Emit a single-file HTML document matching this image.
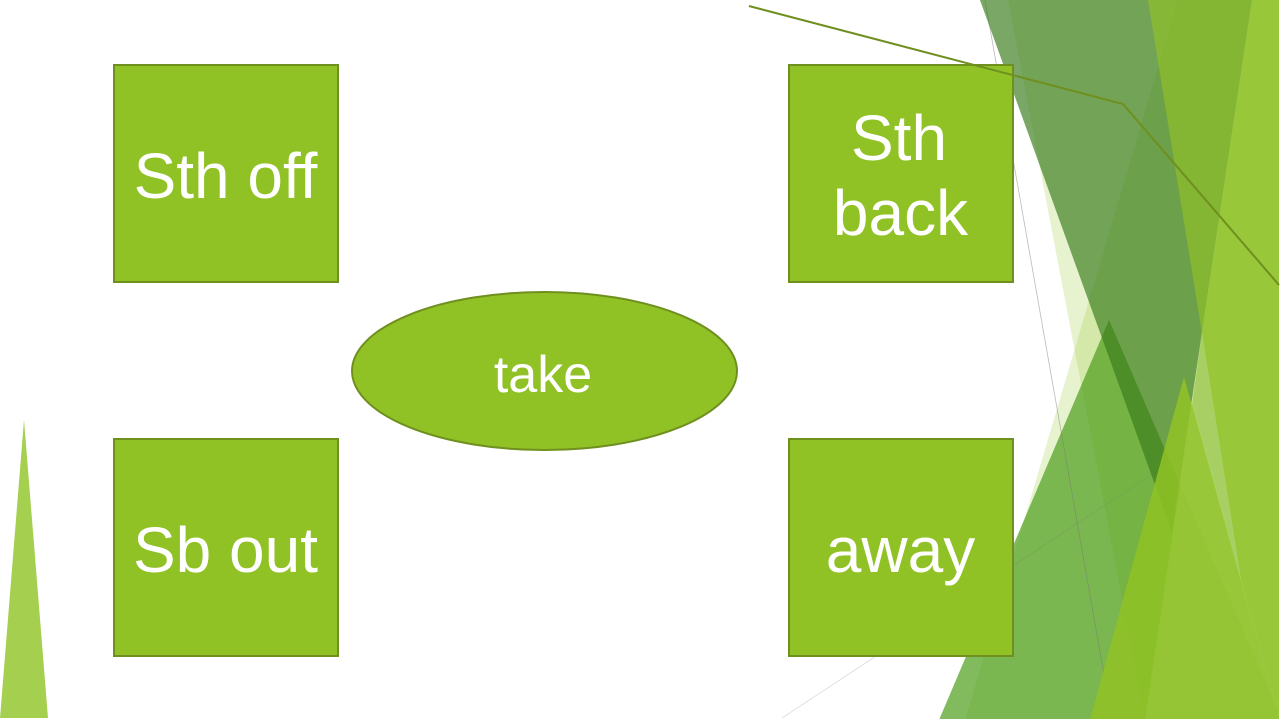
<!DOCTYPE html>
<html>
<head>
<meta charset="utf-8">
<style>
html,body{margin:0;padding:0;background:#fff;width:1280px;height:720px;overflow:hidden}
svg{display:block}
text{font-family:"Liberation Sans",Arial,sans-serif;fill:#fff;text-anchor:middle}
</style>
</head>
<body>
<svg width="1280" height="720" viewBox="0 0 1280 720" xmlns="http://www.w3.org/2000/svg">
<rect width="1280" height="720" fill="#fff"/>
<!-- pale facets -->
<polygon points="1008,0 1145,720 1280,720 1280,0" fill="#90c226" opacity=".22"/>
<polygon points="1178,0 965,720 1280,720 1280,0" fill="#90c226" opacity=".22"/>
<!-- green triangle -->
<polygon points="1109,320 939,720 1282,720" fill="#4d9e19" opacity=".7"/>
<!-- thin lines -->
<line x1="985" y1="0" x2="1112" y2="720" stroke="#777" stroke-width=".8" opacity=".5"/>
<line x1="782" y1="718" x2="1280" y2="390" stroke="#777" stroke-width=".6" opacity=".35"/>
<!-- dark facet -->
<polygon points="980,0 1252,0 1172,532" fill="#3a7c1b" opacity=".67"/>
<!-- band -->
<polygon points="1148,0 1252,0 1202,333" fill="#90c226" opacity=".65"/>
<!-- pale wedge -->
<polygon points="1202,333 1241,580 1192.6,400" fill="#a8cf64"/>
<!-- right facet -->
<polygon points="1252,0 1280,0 1280,720 1241,580 1202,333" fill="#98c73a"/>
<!-- front triangle -->
<polygon points="1184,377 1090,720 1280,720" fill="#90c226" opacity=".88"/>
<polygon points="1192.6,400 1241,580 1280,720 1145,720" fill="#98c73a" opacity=".7"/>
<!-- left triangle -->
<polygon points="24,420 0,718 48,718" fill="#a5cf4f"/>
<!-- edges of render -->
<rect x="0" y="719" width="1280" height="1" fill="#fff"/>
<rect x="1279" y="0" width="1" height="720" fill="#fff"/>
<!-- boxes -->
<g fill="#90c226" stroke="#6f8f1f" stroke-width="2">
<rect x="114" y="65" width="224" height="217"/>
<rect x="789" y="65" width="224" height="217"/>
<rect x="114" y="439" width="224" height="217"/>
<rect x="789" y="439" width="224" height="217"/>
<ellipse cx="544.5" cy="371" rx="192.5" ry="79"/>
</g>
<polyline points="749,6 1123,104 1279,285" fill="none" stroke="#6f8f1f" stroke-width="2"/>
<text x="225.5" y="198" font-size="64">Sth off</text>
<text x="899" y="160" font-size="64">Sth</text>
<text x="900.5" y="235" font-size="64">back</text>
<text x="225.5" y="572" font-size="64">Sb out</text>
<text x="900.5" y="572" font-size="64">away</text>
<text x="543" y="392" font-size="52">take</text>
</svg>
</body>
</html>
